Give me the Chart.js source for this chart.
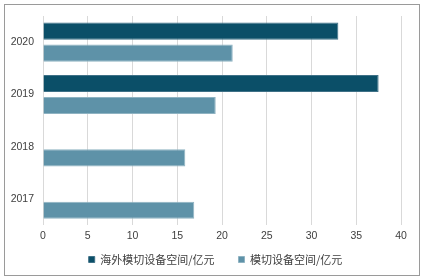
<!DOCTYPE html>
<html>
<head>
<meta charset="utf-8">
<script src="https://cdn.jsdelivr.net/npm/chart.js@4"></script>
<style>
  html, body { margin: 0; padding: 0; background: #fff; }
  #wrap { width: 423px; height: 280px; position: relative; }
</style>
</head>
<body>
<div id="wrap"><canvas id="myChart"></canvas></div>
<script>
const years = ['2020', '2019', '2018', '2017'];
const overseas = [33, 37.5, null, null];   // 海外模切设备空间/亿元
const total = [21.2, 19.3, 15.9, 16.9];    // 模切设备空间/亿元
const xTicks = [0, 5, 10, 15, 20, 25, 30, 35, 40];

const ctx = document.getElementById('myChart');

// outer frame + put the legend where the original has it (centred on the canvas)
const frame = {
    id: 'frame',
    beforeDraw(chart) {
        const lg = chart.legend;
        if (lg) {
            lg.left = 4;
            lg.right = chart.width + 4;
            lg.top = 230;
        }
    },
    afterDraw(chart) {
        const c = chart.ctx;
        c.save();
        c.strokeStyle = '#9a9a9a';
        c.lineWidth = 1;
        c.strokeRect(4.5, 4.5, 415, 271);
        c.restore();
    }
};

new Chart(ctx, {
    type: 'bar',
    data: {
        labels: years,
        datasets: [{
            label: '海外模切设备空间/亿元',
            data: overseas,
            backgroundColor: '#0b4f68',
            borderColor: '#3f7187',
            borderWidth: 1,
            categoryPercentage: 0.84,
            barPercentage: 0.78,
        }, {
            label: '模切设备空间/亿元',
            data: total,
            backgroundColor: '#5e92a8',
            borderColor: '#8fb3c2',
            borderWidth: 1,
            categoryPercentage: 0.84,
            barPercentage: 0.78,
        }]
    },
    options: {
        indexAxis: 'y',
        responsive: true,
        maintainAspectRatio: false,
        animation: false,
        layout: {
            padding: { top: 16, right: 22, left: 0, bottom: 6 }
        },
        plugins: {
            tooltip: { enabled: false },
            legend: {
                position: 'bottom',
                maxHeight: 28,
                labels: {
                    boxWidth: 6,
                    boxHeight: 6,
                    padding: 24,
                    color: '#404040',
                    font: { family: '"Noto Sans CJK SC"', size: 11 }
                }
            }
        },
        scales: {
            x: {
                min: 0,
                max: 40,
                afterBuildTicks: s => { s.ticks = xTicks.map(v => ({ value: v })); },
                grid: { color: '#d9d9d9', drawTicks: false },
                border: { display: false },
                ticks: {
                    padding: 4,
                    color: '#404040',
                    font: { family: '"Liberation Sans"', size: 10.5 }
                }
            },
            y: {
                afterFit: s => { s.width = 43; },
                grid: { display: false, drawTicks: false },
                border: { display: false },
                ticks: {
                    padding: 9,
                    color: '#404040',
                    font: { family: '"Liberation Sans"', size: 10.5 }
                }
            }
        }
    },
    plugins: [frame]
});
</script>
</body>
</html>
